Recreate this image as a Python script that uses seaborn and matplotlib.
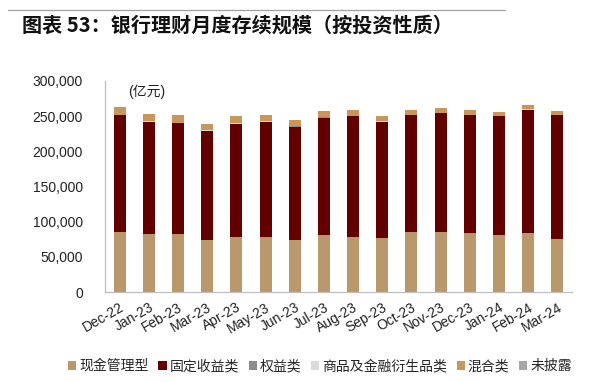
import matplotlib
matplotlib.use("Agg")
import matplotlib.pyplot as plt
import seaborn as sns
import pandas as pd
import numpy as np
from matplotlib.lines import Line2D
from matplotlib.patches import Patch

months = ["Dec-22", "Jan-23", "Feb-23", "Mar-23", "Apr-23", "May-23", "Jun-23", "Jul-23",
          "Aug-23", "Sep-23", "Oct-23", "Nov-23", "Dec-23", "Jan-24", "Feb-24", "Mar-24"]
cash_mgmt = [85700, 82000, 82000, 74000, 78000, 78000, 74000, 80600,
             78000, 76800, 84800, 84800, 83400, 80600, 83400, 75400]
fixed_income = [165300, 159700, 158000, 155000, 161000, 163700, 161000, 167400,
                172000, 164900, 166200, 169200, 167600, 169200, 175400, 175600]
equity = [500, 500, 500, 500, 500, 500, 500, 500, 500, 500, 500, 500, 500, 500, 500, 500]
commodity = [300, 300, 300, 300, 300, 300, 300, 300, 300, 300, 300, 300, 300, 300, 300, 300]
mixed = [11100, 10300, 10200, 9300, 10300, 8700, 8900, 8300, 8400, 7700, 7500, 7300, 6600, 5900, 6500, 6100]
undisclosed = [100, 100, 100, 100, 100, 100, 100, 100, 100, 100, 100, 100, 100, 100, 100, 100]

series_names = ["现金管理型", "固定收益类", "权益类", "商品及金融衍生品类", "混合类", "未披露"]
colors = ["#B9986C", "#620000", "#8C8C8C", "#DADADA", "#C9975C", "#A6A6A6"]
yticks = [0, 50000, 100000, 150000, 200000, 250000, 300000]

sns.set_theme(style="white")
fam = ["Liberation Sans", "Noto Sans CJK SC", "DejaVu Sans"]
plt.rcParams["font.family"] = fam

fig = plt.figure(figsize=(6.01, 3.82), dpi=100)
ax = fig.add_axes([0.1747, 0.2356, 0.7770, 0.5524])

layers = [cash_mgmt, fixed_income, equity, commodity, mixed, undisclosed]
cum = np.cumsum(np.array(layers), axis=0)
df = pd.DataFrame({"month": months})
for i in range(len(layers) - 1, -1, -1):
    df["v"] = cum[i]
    sns.barplot(data=df, x="month", y="v", color=colors[i], width=0.41,
                saturation=1, ax=ax, errorbar=None, linewidth=0)

ax.set_ylim(0, 300000)
ax.set_xlim(-0.5, len(months) - 0.5)
ax.set_yticks(yticks)
ax.set_yticklabels([f"{v:,}" for v in yticks], fontsize=10, color="#222222")
ax.set_xticks(range(len(months)))
ax.set_xticklabels(months, rotation=30, ha="right", rotation_mode="anchor",
                   fontsize=10, color="#222222")
ax.tick_params(axis="x", which="major", length=0, pad=6)
ax.set_xticks(np.arange(-0.5, len(months), 1), minor=True)
ax.tick_params(axis="x", which="minor", length=4, color="#BFBFBF", width=0.8, direction="out")
ax.tick_params(axis="y", length=4, color="#BFBFBF", width=0.8, direction="out", pad=12)
ax.set_xlabel("")
ax.set_ylabel("")
for s in ["top", "right"]:
    ax.spines[s].set_visible(False)
for s in ["left", "bottom"]:
    ax.spines[s].set_color("#BFBFBF")
    ax.spines[s].set_linewidth(0.9)

ax.text(0.05, 0.985, "(亿元)", transform=ax.transAxes, fontsize=10, color="#222222",
        va="top", ha="left", family=fam)

fig.add_artist(Line2D([8 / 601, 505 / 601], [1 - 10 / 382, 1 - 10 / 382],
                      color="#A0A0A0", linewidth=0.9))
fig.text(22 / 601, 1 - 25 / 382, "图表 53：银行理财月度存续规模（按投资性质）",
         fontsize=14.5, fontweight="bold", color="#111111", va="center", ha="left",
         family=["Noto Sans CJK SC", "DejaVu Sans"])

handles = [Patch(facecolor=c, edgecolor="none") for c in colors]
fig.legend(handles, series_names, loc="center", bbox_to_anchor=(320 / 601, 1 - 366 / 382),
           ncol=6, frameon=False, fontsize=10, handlelength=0.6, handleheight=0.6,
           handletextpad=0.2, columnspacing=0.7, prop={"family": fam, "size": 10})

fig.savefig("out.png", dpi=100)
